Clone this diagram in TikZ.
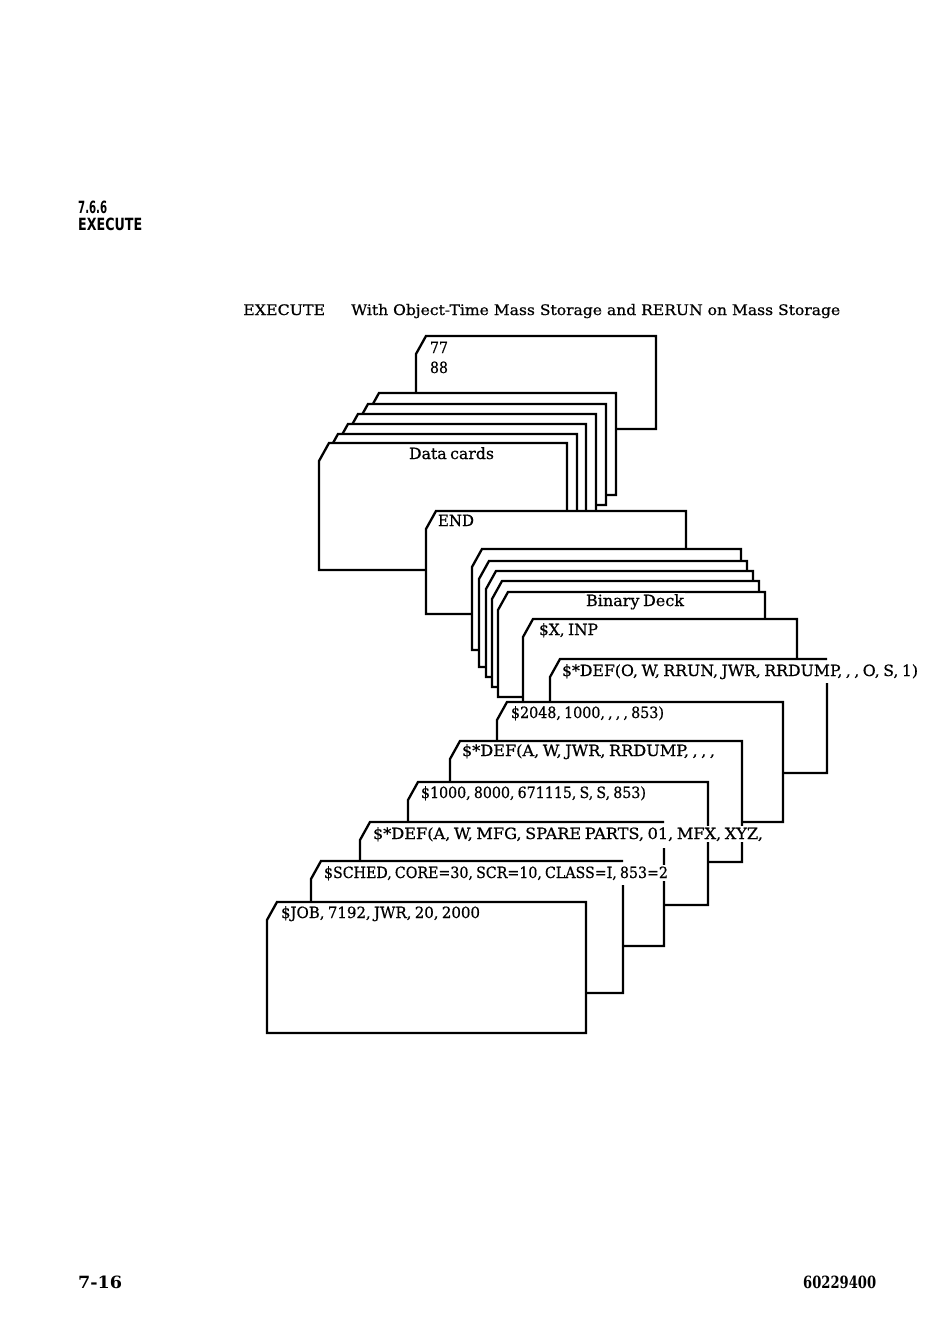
\documentclass[tikz,border=0pt]{standalone}
\usepackage{fontspec}
\usepackage{graphicx}
\setmainfont{DejaVu Serif}
\newfontfamily\cardfont{DejaVu Serif}[FakeBold=0.6]
\newfontfamily\headfont{DejaVu Sans}
\newcommand\cardsetup{\cardfont\fontsize{15.5}{17}\selectfont\spaceskip=0.22em\relax}
\tikzset{
  cardline/.style={draw=black, fill=white, line width=2.3pt, line join=miter},
  cardtxt/.style={anchor=base west, inner sep=0.8pt, fill=white, font=\cardsetup},
  headtxt/.style={anchor=base west, inner sep=0pt, font=\headfont\bfseries\fontsize{15}{17}\selectfont},
  titletxt/.style={anchor=base west, inner sep=0pt, font=\cardfont\fontsize{14.5}{16}\selectfont},
  foottxt/.style={anchor=base west, inner sep=0pt, font=\bfseries\fontsize{16}{18}\selectfont},
}
\newcommand\pcard[4]{\path[cardline] (#1,#4) -- (#1,#2+18) -- (#1+10,#2) -- (#3,#2) -- (#3,#4) -- cycle;}
\newcommand\pcardg[5]{\fill[white] (#1,#4) -- (#1,#2+18) -- (#1+10,#2) -- (#3,#2) -- (#3,#4) -- cycle;
  \draw[cardline, fill=none] (#3,#5) -- (#3,#4) -- (#1,#4) -- (#1,#2+18) -- (#1+10,#2) -- (#3,#2);}
\newcommand\fitw[2]{\resizebox{#1pt}{\height}{#2}}
\newcommand\fitwh[3]{\resizebox{#1pt}{#2pt}{#3}}
\begin{document}
\begin{tikzpicture}[x=1pt,y=-1pt]
\useasboundingbox[fill=white] (0,0) rectangle (950,1339);

% headings
\node[headtxt] (sec) at (78,213) {\fitwh{29}{12.5}{7.6.6}};
\node[headtxt] (secname) at (78,230) {\fitwh{64}{12.5}{EXECUTE}};
\node[titletxt] (ttl1) at (243,315) {\fitw{82}{EXECUTE}};
\node[titletxt] (ttl2) at (351,315) {\fitw{489}{With Object-Time Mass Storage and RERUN on Mass Storage}};

% 77 / 88 card
\pcard{416}{336}{656}{429}
\node[cardtxt] (t77) at (429,353) {\fitw{18}{77}};
\node[cardtxt] (t88) at (429,373) {\fitw{18}{88}};

% data cards
\pcard{369}{393}{616}{495}
\pcard{358}{404}{606}{505}
\pcard{348}{414}{596}{540}
\pcard{338}{424}{586}{540}
\pcard{328}{434}{577}{540}
\pcard{319}{443}{567}{570}
\node[cardtxt] (tdata) at (408,459) {\fitw{85}{Data cards}};

% END card
\pcard{426}{511}{686}{614}
\node[cardtxt] (tend) at (437,526) {\fitw{36}{END}};

% binary deck
\pcard{472}{549}{741}{650}
\pcard{479}{561}{747}{667}
\pcard{486}{571}{753}{677}
\pcard{492}{581}{759}{687}
\pcard{498}{592}{765}{697}
\node[cardtxt] (tbin) at (585,606) {\fitw{98}{Binary Deck}};

% $X, INP
\pcard{523}{619}{797}{760}
\node[cardtxt] (tx) at (538,635) {\fitw{59}{\$X, INP}};

% $*DEF(O...
\pcardg{550}{659}{827}{773}{683}
\node[cardtxt] (tdefo) at (561,676) {\fitw{356}{\$*DEF(O, W, RRUN, JWR, RRDUMP, , , O, S, 1)}};

% $2048
\pcard{497}{702}{783}{822}
\node[cardtxt] (t2048) at (510,718) {\fitw{153}{\$2048, 1000, , , , 853)}};

% $*DEF(A,W,JWR
\pcard{450}{741}{742}{862}
\node[cardtxt] (tjwr) at (461,756) {\fitw{253}{\$*DEF(A, W, JWR, RRDUMP, , , ,}};

% $1000
\pcard{408}{782}{708}{905}
\node[cardtxt] (t1000) at (420,798) {\fitw{225}{\$1000, 8000, 671115, S, S, 853)}};

% $*DEF(A,W,MFG
\pcardg{360}{822}{664}{946}{848}
\node[cardtxt] (tmfg) at (372,839) {\fitw{390}{\$*DEF(A, W, MFG, SPARE PARTS, 01, MFX, XYZ,}};

% $SCHED
\pcardg{311}{861}{623}{993}{885}
\node[cardtxt] (tsched) at (323,878) {\fitw{344}{\$SCHED, CORE=30, SCR=10, CLASS=I, 853=2}};

% $JOB
\pcard{267}{902}{586}{1033}
\node[cardtxt] (tjob) at (280,918) {\fitw{199}{\$JOB, 7192, JWR, 20, 2000}};

% footer
\node[foottxt] (pg) at (78,1288) {\fitwh{44}{12.5}{7-16}};
\node[foottxt] (docno) at (803,1288) {\fitwh{73}{12.5}{60229400}};
\end{tikzpicture}
\end{document}
